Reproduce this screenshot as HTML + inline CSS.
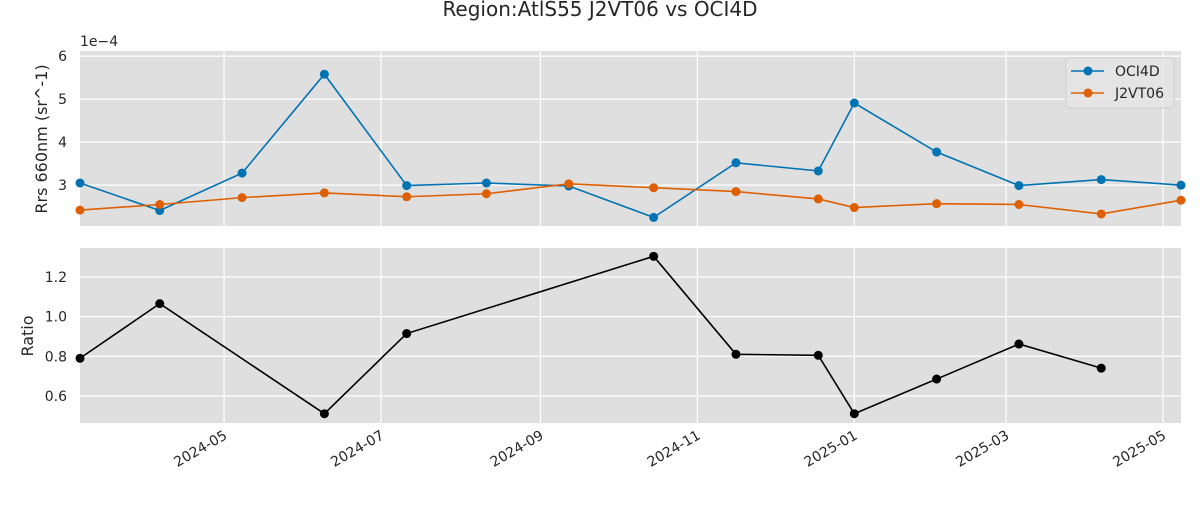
<!DOCTYPE html>
<html><head><meta charset="utf-8">
<style>
body{margin:0;background:#fff;}
svg text{font-family:"DejaVu Sans","Liberation Sans",sans-serif;fill:#262626;}
</style></head>
<body>
<svg id="chart" width="1200" height="500" xmlns="http://www.w3.org/2000/svg">
<text x="600" y="16" text-anchor="middle" font-size="20">Region:AtlS55 J2VT06 vs OCI4D</text>
<g id="top"></g>
<g id="bot"></g>
</svg>
<script>
const dates=["2024-03-06","2024-04-06","2024-05-08","2024-06-09","2024-07-11","2024-08-11","2024-09-12","2024-10-15","2024-11-16","2024-12-18","2025-01-01","2025-02-02","2025-03-06","2025-04-07","2025-05-08"];
const oci4d=[3.05,2.41,3.28,5.58,2.99,3.05,2.98,2.25,3.52,3.33,4.91,3.77,2.99,3.13,3.0];
const j2vt06=[2.42,2.55,2.71,2.82,2.73,2.80,3.03,2.94,2.85,2.68,2.48,2.57,2.55,2.33,2.65];
const ratio=[0.79,1.066,null,0.51,0.915,null,null,1.305,0.81,0.805,0.51,0.685,0.862,0.74,null];
const xTicks=["2024-05","2024-07","2024-09","2024-11","2025-01","2025-03","2025-05"];
const topTicks=[3,4,5,6];
const botTicks=[0.6,0.8,1.0,1.2];

const NS="http://www.w3.org/2000/svg";
const svg=document.getElementById('chart');
function el(t,a,p){const e=document.createElementNS(NS,t);for(const k in a)e.setAttribute(k,a[k]);(p||svg).appendChild(e);return e;}
const day=s=>{const p=s.split('-').map(Number);return Date.UTC(p[0],p[1]-1,p[2]||1)/864e5;};
const X0=80,X1=1181,d0=day(dates[0]),d1=day(dates[dates.length-1]);
const xS=d=>X0+(day(d)-d0)/(d1-d0)*(X1-X0);
const T={y0:51,y1:226,min:2.05,max:6.12};
const B={y0:248,y1:423,min:0.463,max:1.347};
const yS=(P,v)=>P.y1-(v-P.min)/(P.max-P.min)*(P.y1-P.y0);

function panel(P,g,ticks,fmt,name){
  const bg=el('rect',{x:X0,y:P.y0,width:X1-X0,height:P.y1-P.y0,fill:'#dfdfdf'},g);
  
  
  xTicks.forEach(t=>{const x=xS(t+"-01");
    const l=el('line',{x1:x,x2:x,y1:P.y0,y2:P.y1,stroke:'#fff','stroke-width':1.2},g);
    
    });
  ticks.forEach(v=>{const y=yS(P,v);
    const l=el('line',{x1:X0,x2:X1,y1:y,y2:y,stroke:'#fff','stroke-width':1.2},g);
    
    
    const t=el('text',{x:X0-13,y:y+5,'text-anchor':'end','font-size':14},g);
    t.textContent=fmt(v);
    
    });
}
function series(P,g,vals,color,name){
  let d='',pen=false;
  vals.forEach((v,i)=>{if(v==null)return;const x=xS(dates[i]),y=yS(P,v);d+=(d?'L':'M')+x+' '+y;});
  const p=el('path',{d:d,fill:'none',stroke:color,'stroke-width':1.6},g);
  
  
  vals.forEach((v,i)=>{if(v==null)return;
    const c=el('circle',{cx:xS(dates[i]),cy:yS(P,v),r:4.5,fill:color},g);
    
    });
}
const gt=document.getElementById('top'),gb=document.getElementById('bot');
panel(T,gt,topTicks,v=>String(v),'rrs');
panel(B,gb,botTicks,v=>v.toFixed(1),'ratio');
series(T,gt,oci4d,'#0173b2','oci4d');
series(T,gt,j2vt06,'#de5f00','j2vt06');
series(B,gb,ratio,'#000','ratio');

let t=el('text',{x:80,y:46,'font-size':14},gt);t.textContent='1e\u22124';


t=el('text',{x:0,y:0,'font-size':16,'text-anchor':'middle',transform:'translate(47,139) rotate(-90)'},gt);t.textContent='Rrs 660nm (sr^-1)';


t=el('text',{x:0,y:0,'font-size':16,'text-anchor':'middle',transform:'translate(33,336) rotate(-90)'},gb);t.textContent='Ratio';


xTicks.forEach(s=>{const x=xS(s+"-01");
  const tx=el('text',{x:0,y:0,'font-size':14,'text-anchor':'end',transform:`translate(${x+4},${438}) rotate(-30)`},gb);
  tx.textContent=s;
  
  });

// legend
const lg=el('g',{},gt);


el('rect',{x:1066,y:58,width:108,height:50,rx:3,fill:'#e5e5e5',stroke:'#cfcfcf','stroke-width':1,'fill-opacity':0.8},lg);
[['OCI4D','#0173b2',71],['J2VT06','#de5f00',93]].forEach(([n,c,y])=>{
  const e=el('g',{},lg);
  
  
  el('line',{x1:1071,x2:1104,y1:y,y2:y,stroke:c,'stroke-width':1.6},e);
  el('circle',{cx:1088,cy:y,r:4.5,fill:c},e);
  const tt=el('text',{x:1115,y:y+5,'font-size':14},e);tt.textContent=n;
});
</script>
</body></html>
